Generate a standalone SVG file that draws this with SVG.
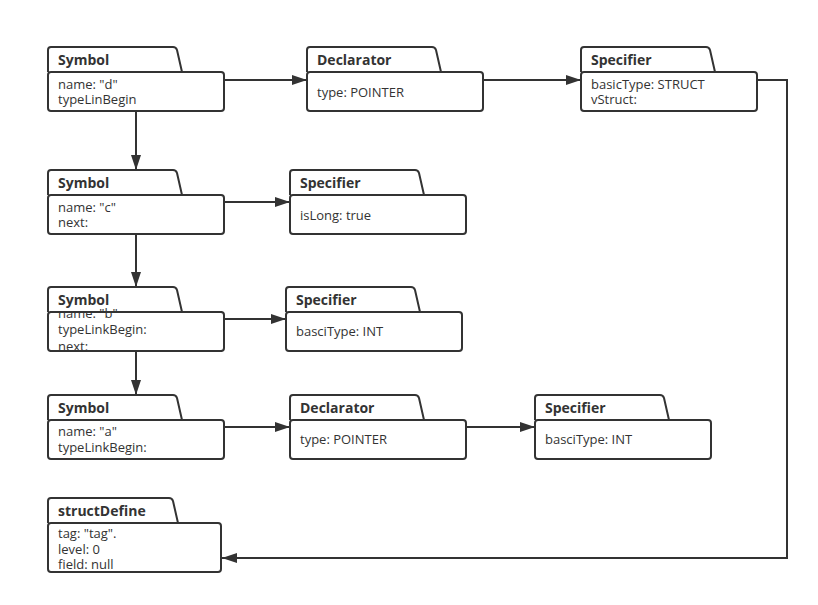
<svg xmlns="http://www.w3.org/2000/svg" width="818" height="605" viewBox="0 0 818 605">
  <style>
    .tab { fill: #ffffff; stroke: #333333; stroke-width: 2; stroke-linejoin: round; }
    .body { fill: #ffffff; stroke: #333333; stroke-width: 2; }
    .title { font-family: "Open Sans", "Liberation Sans", sans-serif; font-size: 14px; font-weight: bold; fill: #333333; }
    .field { font-family: "Open Sans", "Liberation Sans", sans-serif; font-size: 13px; fill: #333333; }
    .wire { fill: none; stroke: #333333; stroke-width: 2; }
  </style>
  <defs>
    <marker id="arrow" markerUnits="userSpaceOnUse" markerWidth="16" markerHeight="12" refX="15" refY="5" orient="auto">
      <path d="M0,0 L15,5 L0,10 Z" fill="#333333"/>
    </marker>
    <!-- folder-shaped record: tab on top, rounded body below -->
    <path id="tab176" d="M0,25 V3 Q0,0 3,0 H125 Q128,0 129,3 L134,25"/>
    <path id="tab173" d="M0,25 V3 Q0,0 3,0 H121 Q124,0 125,3 L130,25"/>
    <clipPath id="clipB">
      <rect x="40" y="306" width="190" height="45"/>
    </clipPath>
  </defs>

  <g id="connectors">
    <line class="wire" x1="224" y1="80" x2="307" y2="80" marker-end="url(#arrow)"/>
    <line class="wire" x1="483" y1="80" x2="581" y2="80" marker-end="url(#arrow)"/>
    <polyline class="wire" points="757,80 787,80 787,558 222,558" marker-end="url(#arrow)"/>
    <line class="wire" x1="136" y1="111" x2="136" y2="170" marker-end="url(#arrow)"/>
    <line class="wire" x1="224" y1="202" x2="290" y2="202" marker-end="url(#arrow)"/>
    <line class="wire" x1="136" y1="234" x2="136" y2="287" marker-end="url(#arrow)"/>
    <line class="wire" x1="224" y1="319" x2="286" y2="319" marker-end="url(#arrow)"/>
    <line class="wire" x1="136" y1="351" x2="136" y2="395" marker-end="url(#arrow)"/>
    <line class="wire" x1="224" y1="427" x2="290" y2="427" marker-end="url(#arrow)"/>
    <line class="wire" x1="466" y1="427" x2="535" y2="427" marker-end="url(#arrow)"/>
  </g>

  <g id="symbol-d" transform="translate(48,47)">
    <use href="#tab176" class="tab"/>
    <rect class="body" x="0" y="25" width="176" height="39" rx="3"/>
    <text class="title" x="10" y="18">Symbol</text>
    <text class="field" x="10" y="42">name: "d"</text>
    <text class="field" x="10" y="57">typeLinBegin</text>
  </g>

  <g id="declarator-1" transform="translate(307,47)">
    <use href="#tab176" class="tab"/>
    <rect class="body" x="0" y="25" width="176" height="39" rx="3"/>
    <text class="title" x="10" y="18">Declarator</text>
    <text class="field" x="10" y="50">type: POINTER</text>
  </g>

  <g id="specifier-1" transform="translate(581,47)">
    <use href="#tab176" class="tab"/>
    <rect class="body" x="0" y="25" width="176" height="39" rx="3"/>
    <text class="title" x="10" y="18">Specifier</text>
    <text class="field" x="10" y="42">basicType: STRUCT</text>
    <text class="field" x="10" y="57">vStruct:</text>
  </g>

  <g id="symbol-c" transform="translate(48,170)">
    <use href="#tab176" class="tab"/>
    <rect class="body" x="0" y="25" width="176" height="39" rx="3"/>
    <text class="title" x="10" y="18">Symbol</text>
    <text class="field" x="10" y="42">name: "c"</text>
    <text class="field" x="10" y="57">next:</text>
  </g>

  <g id="specifier-2" transform="translate(290,170)">
    <use href="#tab176" class="tab"/>
    <rect class="body" x="0" y="25" width="176" height="39" rx="3"/>
    <text class="title" x="10" y="18">Specifier</text>
    <text class="field" x="10" y="50">isLong: true</text>
  </g>

  <g id="symbol-b">
    <g transform="translate(48,287)">
      <use href="#tab176" class="tab"/>
      <rect class="body" x="0" y="25" width="176" height="39" rx="3"/>
      <text class="title" x="10" y="18">Symbol</text>
    </g>
    <!-- three field lines overflow the two-line body and are cut by its borders -->
    <g clip-path="url(#clipB)">
      <text class="field" x="58" y="318">name: "b"</text>
      <text class="field" x="58" y="334">typeLinkBegin:</text>
      <text class="field" x="58" y="351">next:</text>
    </g>
    <line class="wire" x1="50" y1="312" x2="222" y2="312"/>
    <line class="wire" x1="50" y1="351" x2="222" y2="351"/>
  </g>

  <g id="specifier-3" transform="translate(286,287)">
    <use href="#tab176" class="tab"/>
    <rect class="body" x="0" y="25" width="176" height="39" rx="3"/>
    <text class="title" x="10" y="18">Specifier</text>
    <text class="field" x="10" y="49">basciType: INT</text>
  </g>

  <g id="symbol-a" transform="translate(48,395)">
    <use href="#tab176" class="tab"/>
    <rect class="body" x="0" y="25" width="176" height="39" rx="3"/>
    <text class="title" x="10" y="18">Symbol</text>
    <text class="field" x="10" y="41">name: "a"</text>
    <text class="field" x="10" y="57">typeLinkBegin:</text>
  </g>

  <g id="declarator-2" transform="translate(290,395)">
    <use href="#tab176" class="tab"/>
    <rect class="body" x="0" y="25" width="176" height="39" rx="3"/>
    <text class="title" x="10" y="18">Declarator</text>
    <text class="field" x="10" y="49">type: POINTER</text>
  </g>

  <g id="specifier-4" transform="translate(535,395)">
    <use href="#tab176" class="tab"/>
    <rect class="body" x="0" y="25" width="176" height="39" rx="3"/>
    <text class="title" x="10" y="18">Specifier</text>
    <text class="field" x="10" y="49">basciType: INT</text>
  </g>

  <g id="struct-define" transform="translate(48,499)">
    <use href="#tab173" class="tab" transform="translate(0,-1)"/>
    <rect class="body" x="0" y="24" width="173" height="49" rx="3"/>
    <text class="title" x="10" y="17">structDefine</text>
    <text class="field" x="10" y="39">tag: "tag".</text>
    <text class="field" x="10" y="55">level: 0</text>
    <text class="field" x="10" y="70">field: null</text>
  </g>
</svg>
